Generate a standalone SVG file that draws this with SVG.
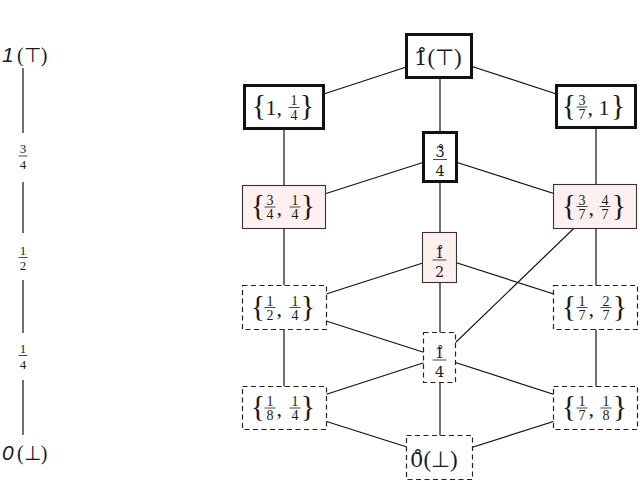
<svg xmlns="http://www.w3.org/2000/svg" width="640" height="481" viewBox="0 0 640 481">
<style>
.t{font-family:"Liberation Serif","DejaVu Serif",serif;fill:#1a1a1a}
.d{font-family:"DejaVu Serif",serif}
.m{text-anchor:middle}
.big{font-size:22px}
.fr{font-size:14px;text-anchor:middle}
.sf{font-size:14.5px;text-anchor:middle}
.lf{font-size:13px;text-anchor:middle}
.br{font-size:30px;text-anchor:middle}
.sym{font-family:"DejaVu Sans",sans-serif;font-weight:200}
.it{font-family:"Liberation Sans",sans-serif;font-style:italic;font-size:21px}
.bar{stroke:#1a1a1a;stroke-width:0.8}
.thick{fill:#fff;stroke:#111;stroke-width:3}
.pink{fill:#fff0f0;stroke:#333;stroke-width:1.1}
.dash{fill:#fff;stroke:#222;stroke-width:1.2;stroke-dasharray:5,3.5}
.e{stroke:#111;stroke-width:1.2;fill:none}
</style>
<rect width="640" height="481" fill="#fff"/>

<g id="scale">
<text class="t" style="font-size:20px"><tspan class="it" x="2" y="62">1</tspan><tspan x="17" y="62">(</tspan><tspan class="sym">⊤</tspan><tspan>)</tspan></text>
<line class="e" x1="23" y1="68" x2="23" y2="133"/>
<text class="t lf" x="23" y="153">3</text><text class="t lf" x="23" y="168.5">4</text><line class="bar" x1="18.5" y1="156" x2="27.5" y2="156"/>
<line class="e" x1="23" y1="182" x2="23" y2="233"/>
<text class="t lf" x="23" y="255">1</text><text class="t lf" x="23" y="270">2</text><line class="bar" x1="18.5" y1="257.5" x2="27.5" y2="257.5"/>
<line class="e" x1="23" y1="280" x2="23" y2="333"/>
<text class="t lf" x="23" y="353">1</text><text class="t lf" x="23" y="368.5">4</text><line class="bar" x1="18.5" y1="355.5" x2="27.5" y2="355.5"/>
<line class="e" x1="23" y1="380" x2="23" y2="435"/>
<text class="t" style="font-size:20px"><tspan class="it" x="2" y="460">0</tspan><tspan x="17" y="460">(</tspan><tspan class="sym">⊥</tspan><tspan>)</tspan></text>
</g>

<g id="edges">
<line class="e" x1="440" y1="56" x2="284" y2="107"/>
<line class="e" x1="440" y1="56" x2="596" y2="107"/>
<line class="e" x1="440" y1="56" x2="440" y2="157"/>
<line class="e" x1="284" y1="107" x2="284" y2="207"/>
<line class="e" x1="596" y1="107" x2="596" y2="207"/>
<line class="e" x1="440" y1="157" x2="284" y2="207"/>
<line class="e" x1="440" y1="157" x2="596" y2="207"/>
<line class="e" x1="440" y1="157" x2="440" y2="257.5"/>
<line class="e" x1="284" y1="207" x2="284" y2="307.5"/>
<line class="e" x1="596" y1="207" x2="596" y2="307.5"/>
<line class="e" x1="596" y1="207" x2="440" y2="357.5"/>
<line class="e" x1="440" y1="257.5" x2="284" y2="307.5"/>
<line class="e" x1="440" y1="257.5" x2="596" y2="307.5"/>
<line class="e" x1="440" y1="257.5" x2="440" y2="357.5"/>
<line class="e" x1="284" y1="307.5" x2="440" y2="357.5"/>
<line class="e" x1="284" y1="307.5" x2="284" y2="408"/>
<line class="e" x1="596" y1="307.5" x2="596" y2="408"/>
<line class="e" x1="440" y1="357.5" x2="284" y2="408"/>
<line class="e" x1="440" y1="357.5" x2="596" y2="408"/>
<line class="e" x1="440" y1="357.5" x2="440" y2="457.5"/>
<line class="e" x1="284" y1="408" x2="440" y2="457.5"/>
<line class="e" x1="596" y1="408" x2="440" y2="457.5"/>
</g>

<g id="n-top">
<rect class="thick" x="406.5" y="34.5" width="65" height="43"/>
<text class="t" x="414" y="65" style="font-size:23px"><tspan class="d" style="font-size:21px">1̊</tspan><tspan>(</tspan><tspan class="sym" style="font-size:22px">⊤</tspan><tspan>)</tspan></text>
</g>

<g id="n-1-14">
<rect class="thick" x="244.5" y="85.5" width="79" height="43"/>
<text class="t br" x="259" y="115">{</text>
<text class="t big" x="265.5" y="115">1,</text>
<text class="t fr" x="294" y="105">1</text><text class="t fr" x="294" y="119.5">4</text><line class="bar" x1="288.5" y1="107.5" x2="299.5" y2="107.5"/>
<text class="t br" x="307" y="115">}</text>
</g>

<g id="n-37-1">
<rect class="thick" x="556.5" y="85.5" width="79" height="42"/>
<text class="t br" x="569" y="114.5">{</text>
<text class="t fr" x="582" y="104.5">3</text><text class="t fr" x="582" y="119">7</text><line class="bar" x1="576.5" y1="107" x2="587.5" y2="107"/>
<text class="t big" x="587.5" y="114.5">, <tspan x="598.5">1</tspan></text>
<text class="t br" x="618" y="114.5">}</text>
</g>

<g id="n-34">
<rect class="thick" x="423.5" y="132.5" width="33" height="49"/>
<text class="t d sf" x="440" y="157">3̊</text><text class="t d sf" x="440" y="175.5">4</text><line class="bar" x1="433" y1="159.5" x2="447" y2="159.5"/>
</g>

<g id="n-34-14">
<rect class="pink" x="242.5" y="185.5" width="83" height="43"/>
<text class="t br" x="258" y="215">{</text>
<text class="t fr" x="270" y="205">3</text><text class="t fr" x="270" y="219">4</text><line class="bar" x1="264.5" y1="207" x2="275.5" y2="207"/>
<text class="t big" x="276.5" y="215">,</text>
<text class="t fr" x="295" y="205">1</text><text class="t fr" x="295" y="219">4</text><line class="bar" x1="289.5" y1="207" x2="300.5" y2="207"/>
<text class="t br" x="308" y="215">}</text>
</g>

<g id="n-37-47">
<rect class="pink" x="553.5" y="184.5" width="83" height="44"/>
<text class="t br" x="569" y="214.5">{</text>
<text class="t fr" x="582" y="204.5">3</text><text class="t fr" x="582" y="218.5">7</text><line class="bar" x1="576.5" y1="206.5" x2="587.5" y2="206.5"/>
<text class="t big" x="588.5" y="214.5">,</text>
<text class="t fr" x="605" y="204.5">4</text><text class="t fr" x="605" y="218.5">7</text><line class="bar" x1="599.5" y1="206.5" x2="610.5" y2="206.5"/>
<text class="t br" x="619" y="214.5">}</text>
</g>

<g id="n-12">
<rect class="pink" x="422.5" y="232.5" width="34" height="50"/>
<text class="t d sf" x="439.5" y="258">1̊</text><text class="t d sf" x="439.5" y="276.5">2</text><line class="bar" x1="432.5" y1="260" x2="446.5" y2="260"/>
</g>

<g id="n-12-14">
<rect class="dash" x="242.5" y="285.5" width="84" height="44"/>
<text class="t br" x="258" y="315.5">{</text>
<text class="t fr" x="270" y="305.5">1</text><text class="t fr" x="270" y="319.5">2</text><line class="bar" x1="264.5" y1="307.5" x2="275.5" y2="307.5"/>
<text class="t big" x="276.5" y="315.5">,</text>
<text class="t fr" x="295" y="305.5">1</text><text class="t fr" x="295" y="319.5">4</text><line class="bar" x1="289.5" y1="307.5" x2="300.5" y2="307.5"/>
<text class="t br" x="308" y="315.5">}</text>
</g>

<g id="n-17-27">
<rect class="dash" x="553.5" y="285.5" width="84" height="44"/>
<text class="t br" x="569" y="315.5">{</text>
<text class="t fr" x="582" y="305.5">1</text><text class="t fr" x="582" y="319.5">7</text><line class="bar" x1="576.5" y1="307.5" x2="587.5" y2="307.5"/>
<text class="t big" x="588.5" y="315.5">,</text>
<text class="t fr" x="606" y="305.5">2</text><text class="t fr" x="606" y="319.5">7</text><line class="bar" x1="600.5" y1="307.5" x2="611.5" y2="307.5"/>
<text class="t br" x="620" y="315.5">}</text>
</g>

<g id="n-14">
<rect class="dash" x="423.5" y="332.5" width="32" height="50"/>
<text class="t d sf" x="439.5" y="358">1̊</text><text class="t d sf" x="439.5" y="376.5">4</text><line class="bar" x1="432.5" y1="360" x2="446.5" y2="360"/>
</g>

<g id="n-18-14">
<rect class="dash" x="242.5" y="386.5" width="84" height="43"/>
<text class="t br" x="258" y="416">{</text>
<text class="t fr" x="270" y="406">1</text><text class="t fr" x="270" y="420">8</text><line class="bar" x1="264.5" y1="408" x2="275.5" y2="408"/>
<text class="t big" x="276.5" y="416">,</text>
<text class="t fr" x="295" y="406">1</text><text class="t fr" x="295" y="420">4</text><line class="bar" x1="289.5" y1="408" x2="300.5" y2="408"/>
<text class="t br" x="308" y="416">}</text>
</g>

<g id="n-17-18">
<rect class="dash" x="553.5" y="386.5" width="84" height="43"/>
<text class="t br" x="569" y="416">{</text>
<text class="t fr" x="582" y="406">1</text><text class="t fr" x="582" y="420">7</text><line class="bar" x1="576.5" y1="408" x2="587.5" y2="408"/>
<text class="t big" x="588.5" y="416">,</text>
<text class="t fr" x="606" y="406">1</text><text class="t fr" x="606" y="420">8</text><line class="bar" x1="600.5" y1="408" x2="611.5" y2="408"/>
<text class="t br" x="620" y="416">}</text>
</g>

<g id="n-bottom">
<rect class="dash" x="406.5" y="435.5" width="66" height="44"/>
<text class="t" x="410" y="467" style="font-size:23px"><tspan class="d" style="font-size:21px">0̊</tspan><tspan>(</tspan><tspan class="sym" style="font-size:22px">⊥</tspan><tspan>)</tspan></text>
</g>
</svg>
